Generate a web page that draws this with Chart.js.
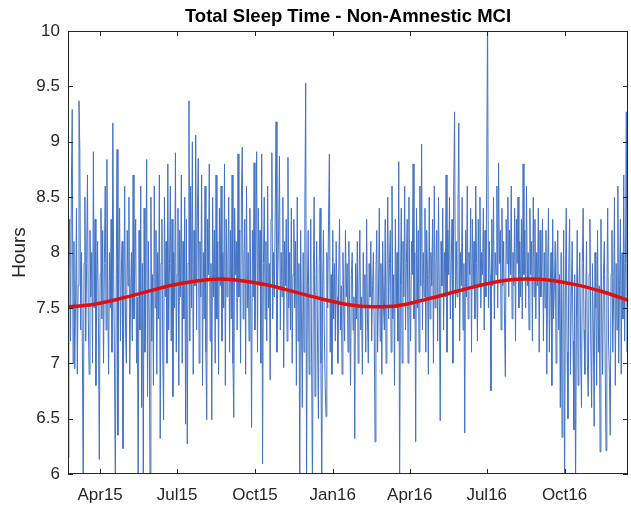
<!DOCTYPE html>
<html>
<head>
<meta charset="utf-8">
<script src="https://cdn.jsdelivr.net/npm/chart.js@4/dist/chart.umd.min.js"></script>
<style>
  html, body { margin: 0; padding: 0; background: #fff; }
  canvas { display: block; }
</style>
</head>
<body>
<canvas id="sleepChart" width="631" height="506"></canvas>
<script>
// day 0 = 22 Feb 2015, one value per night
const sleepHours = [
  6.15, 7.8, 8.3, 7.2, 8.6, 9.29, 7.0, 8.1, 6.95, 7.6, 8.4, 6.9, 7.7, 9.37, 8.92, 7.3, 8.0, 7.1, 5.8, 7.9,
  8.5, 7.2, 7.9, 8.7, 7.4, 6.9, 8.2, 7.6, 8.0, 7.0, 8.91, 7.5, 8.3, 6.8, 7.7, 8.1, 7.3, 6.13, 7.8, 8.4,
  7.4, 8.2, 7.0, 7.9, 8.6, 7.3, 8.84, 7.6, 6.9, 8.0, 7.5, 8.3, 7.1, 9.17, 7.8, 6.95, 5.85, 7.7, 8.93, 6.35,
  7.9, 8.4, 7.2, 7.8, 8.1, 6.23, 7.5, 8.6, 7.3, 7.0, 8.2, 7.7, 8.5, 6.9, 7.6, 8.0, 7.2, 8.7, 7.4, 7.9,
  8.3, 7.0, 7.6, 5.8, 8.2, 7.3, 8.6, 6.6, 7.9, 5.85, 8.4, 7.1, 7.7, 8.84, 6.7, 8.1, 7.4, 5.9, 8.5, 7.2,
  7.8, 6.8, 8.6, 7.5, 8.2, 6.9, 8.0, 7.4, 8.7, 6.32, 7.9, 8.3, 7.1, 6.49, 8.5, 7.6, 8.1, 7.0, 8.8, 7.3,
  7.9, 8.6, 7.2, 8.3, 6.7, 8.0, 7.5, 8.9, 7.1, 7.8, 8.4, 6.8, 8.2, 7.6, 8.7, 7.0, 8.1, 7.4, 8.5, 6.45,
  8.3, 6.27, 7.9, 9.37, 7.2, 8.6, 7.5, 9.0, 6.9, 8.2, 7.7, 9.06, 7.3, 8.4, 8.85, 7.0, 8.1, 7.6, 8.7, 6.8,
  8.0, 7.4, 8.6, 7.1, 6.49, 8.3, 7.8, 8.8, 7.2, 7.9, 6.49, 8.5, 7.6, 8.2, 7.0, 8.7, 7.4, 8.1, 6.9, 8.4,
  7.7, 8.6, 7.2, 8.0, 7.5, 8.8, 6.8, 8.3, 7.6, 7.9, 8.5, 7.1, 8.2, 7.4, 8.7, 7.0, 6.51, 8.4, 7.8, 8.1,
  7.3, 8.89, 7.6, 8.2, 7.0, 8.5, 8.95, 7.4, 7.9, 8.3, 6.9, 8.6, 7.5, 8.0, 7.2, 8.4, 7.7, 6.42, 8.2, 7.6,
  8.81, 7.3, 8.0, 8.91, 7.1, 8.4, 7.7, 8.2, 7.0, 8.89, 6.09, 7.9, 8.5, 7.4, 8.1, 7.2, 8.6, 7.5, 7.9, 6.85,
  8.3, 8.9, 7.4, 8.0, 7.6, 8.4, 9.18, 7.1, 7.8, 8.2, 8.87, 7.3, 8.0, 7.6, 8.5, 6.96, 8.1, 7.7, 8.3, 7.2,
  8.86, 7.5, 8.0, 7.3, 8.4, 7.0, 7.8, 8.3, 7.5, 8.1, 6.8, 8.5, 7.2, 7.9, 5.8, 8.2, 7.4, 6.6, 8.0, 7.1,
  8.4, 9.53, 5.85, 7.7, 8.2, 6.9, 7.5, 8.3, 7.0, 5.8, 7.8, 8.5, 6.7, 7.6, 8.1, 7.2, 6.5, 7.9, 8.4, 7.0,
  5.85, 7.7, 8.2, 7.3, 6.8, 6.52, 8.0, 7.5, 8.3, 8.89, 7.1, 7.8, 6.9, 8.2, 7.4, 7.9, 7.2, 8.1, 7.6, 7.0,
  7.8, 8.3, 7.3, 7.7, 6.9, 8.0, 7.5, 7.2, 8.2, 7.6, 7.9, 7.1, 8.1, 7.4, 6.8, 7.8, 8.0, 7.3, 7.6, 6.32,
  7.9, 7.4, 8.1, 7.0, 7.7, 8.2, 7.3, 7.6, 6.9, 8.0, 7.5, 7.8, 7.1, 8.3, 7.4, 7.0, 7.9, 7.6, 8.1, 7.2,
  7.7, 8.0, 7.3, 6.29, 7.8, 8.2, 7.1, 7.6, 8.4, 7.2, 7.9, 6.9, 8.1, 7.5, 7.3, 8.3, 7.0, 7.7, 8.5, 7.4,
  7.9, 8.2, 7.1, 8.6, 7.4, 7.8, 6.8, 8.3, 7.5, 8.0, 7.2, 8.82, 5.8, 7.7, 8.4, 7.0, 8.1, 7.6, 8.6, 7.3,
  7.9, 8.3, 7.0, 8.5, 7.6, 7.2, 8.1, 7.8, 8.8, 7.4, 8.0, 6.29, 8.4, 7.5, 8.2, 7.1, 8.6, 7.7, 8.98, 7.3,
  8.0, 7.6, 8.4, 7.1, 8.2, 7.8, 6.9, 8.5, 7.4, 8.0, 7.7, 8.3, 7.0, 8.6, 7.5, 7.9, 8.2, 7.2, 8.5, 7.6,
  6.48, 8.1, 7.7, 8.4, 7.3, 8.0, 7.6, 8.7, 7.1, 8.2, 7.8, 8.5, 7.4, 7.9, 8.3, 7.0, 8.6, 9.27, 7.5, 8.1,
  7.6, 8.4, 9.17, 7.2, 8.0, 7.7, 8.5, 7.3, 7.9, 6.37, 8.2, 7.6, 8.6, 7.4, 8.0, 7.8, 8.4, 7.1, 8.3, 7.7,
  8.1, 7.4, 8.6, 7.9, 7.2, 8.3, 7.7, 8.5, 7.5, 8.0, 7.8, 8.4, 7.3, 8.2, 7.6, 8.7, 10.2, 7.5, 8.1, 7.8,
  6.75, 8.3, 7.7, 8.5, 7.4, 8.0, 7.8, 8.6, 7.5, 8.81, 7.9, 8.2, 7.3, 8.4, 7.7, 8.1, 7.4, 6.88, 8.3, 7.9,
  8.5, 7.6, 8.2, 7.8, 8.6, 7.4, 8.0, 7.7, 8.4, 7.2, 8.3, 7.9, 8.5, 7.5, 8.1, 7.6, 8.3, 7.4, 8.8, 7.8,
  8.2, 7.5, 8.6, 7.7, 8.0, 7.3, 8.4, 7.8, 8.1, 7.2, 8.5, 7.6, 8.3, 7.4, 8.0, 7.7, 8.4, 7.1, 8.2, 7.6,
  7.9, 8.3, 7.2, 8.0, 7.5, 8.2, 6.9, 7.8, 8.4, 7.1, 7.6, 8.0, 6.8, 8.3, 7.4, 7.7, 8.1, 7.0, 7.9, 8.2,
  7.3, 7.8, 6.6, 8.0, 6.33, 7.5, 8.2, 5.8, 7.7, 8.4, 7.1, 6.5, 7.9, 8.3, 6.9, 7.6, 8.1, 7.2, 6.4, 7.8,
  5.8, 7.4, 8.2, 6.8, 7.7, 8.0, 7.1, 6.6, 7.9, 8.4, 7.3, 6.9, 7.6, 8.1, 7.0, 6.7, 7.8, 8.3, 7.2, 6.6,
  7.9, 7.3, 6.43, 8.0, 7.5, 6.8, 8.2, 7.1, 7.7, 6.2, 8.3, 7.4, 6.9, 7.8, 8.1, 7.0, 6.21, 7.6, 8.4, 7.2,
  6.9, 6.35, 7.8, 8.2, 7.1, 7.6, 8.5, 6.8, 7.9, 7.3, 8.6, 7.0, 7.7, 8.3, 6.9, 8.0, 7.4, 8.7, 7.2, 7.9,
  9.27, 7.1, 8.0
];

const fitDays   = [0, 30, 60, 90, 120, 150, 180, 210, 240, 270, 300, 330, 360, 390, 420, 450, 480, 510, 540, 570, 600, 630, 662];
const fitValues = [7.51, 7.53, 7.58, 7.64, 7.70, 7.74, 7.76, 7.74, 7.70, 7.64, 7.58, 7.53, 7.51, 7.52, 7.57, 7.63, 7.69, 7.74, 7.76, 7.75, 7.71, 7.65, 7.57];

const tickDays   = [38, 129, 221, 313, 404, 495, 587];
const tickLabels = ['Apr15', 'Jul15', 'Oct15', 'Jan16', 'Apr16', 'Jul16', 'Oct16'];

const AXIS_COLOR = '#262626';
const FONT = 'Liberation Sans, Arial, Helvetica, sans-serif';

const boxPlugin = {
    id: 'matlabBox',
    afterDatasetsDraw(chart) {
        const { ctx, chartArea: a, scales: { x, y } } = chart;
        ctx.save();
        ctx.strokeStyle = AXIS_COLOR;
        ctx.lineWidth = 1;
        ctx.strokeRect(Math.round(a.left) + 0.5, Math.round(a.top) + 0.5,
                       Math.round(a.right - a.left) - 1, Math.round(a.bottom - a.top) - 1);
        ctx.beginPath();
        x.ticks.forEach(t => {
            const px = Math.round(x.getPixelForValue(t.value)) + 0.5;
            ctx.moveTo(px, a.bottom); ctx.lineTo(px, a.bottom - 5);
            ctx.moveTo(px, a.top);    ctx.lineTo(px, a.top + 5);
        });
        y.ticks.forEach(t => {
            const py = Math.round(y.getPixelForValue(t.value)) + 0.5;
            ctx.moveTo(a.left, py);  ctx.lineTo(a.left + 5, py);
            ctx.moveTo(a.right, py); ctx.lineTo(a.right - 5, py);
        });
        ctx.stroke();
        ctx.restore();
    },
    afterDraw(chart) {
        const { ctx, chartArea: a } = chart;
        ctx.save();
        ctx.fillStyle = '#000';
        ctx.font = 'bold 18.5px ' + FONT;
        ctx.textAlign = 'center';
        ctx.textBaseline = 'middle';
        ctx.fillText('Total Sleep Time - Non-Amnestic MCI', (a.left + a.right) / 2, 17);
        ctx.restore();
    }
};

new Chart(document.getElementById('sleepChart'), {
    type: 'line',
    data: {
        datasets: [
            {
                label: 'Fit',
                data: fitDays.map((d, i) => ({ x: d, y: fitValues[i] })),
                borderColor: '#e0100f',
                borderWidth: 3.5,
                pointRadius: 0,
                cubicInterpolationMode: 'monotone',
                order: 0,
            },
            {
                label: 'Total sleep time',
                data: sleepHours.map((v, i) => ({ x: i, y: v })),
                borderColor: '#4272c4',
                borderWidth: 1,
                pointRadius: 0,
                tension: 0,
                order: 1,
            },
        ]
    },
    options: {
        responsive: false,
        animation: false,
        layout: { padding: { top: 31, right: 3, left: 0, bottom: 0 } },
        plugins: {
            legend: { display: false },
            tooltip: { enabled: false },
        },
        scales: {
            x: {
                type: 'linear',
                min: 0,
                max: 662,
                afterFit: s => { s.height = 32; },
                afterBuildTicks: s => { s.ticks = tickDays.map(v => ({ value: v })); },
                grid: { display: false, drawTicks: false },
                border: { display: false },
                ticks: {
                    autoSkip: false,
                    maxRotation: 0,
                    padding: 11,
                    color: AXIS_COLOR,
                    font: { family: FONT, size: 17 },
                    callback: v => tickLabels[tickDays.indexOf(v)],
                },
            },
            y: {
                min: 6,
                max: 10,
                afterFit: s => { s.width = 68; },
                grid: { display: false, drawTicks: false },
                border: { display: false },
                ticks: {
                    stepSize: 0.5,
                    padding: 8,
                    color: AXIS_COLOR,
                    font: { family: FONT, size: 17 },
                    callback: v => String(v),
                },
                title: {
                    display: true,
                    text: 'Hours',
                    color: AXIS_COLOR,
                    font: { family: FONT, size: 19 },
                    padding: { top: 8, bottom: 0 },
                },
            },
        },
    },
    plugins: [boxPlugin],
});
</script>
</body>
</html>
